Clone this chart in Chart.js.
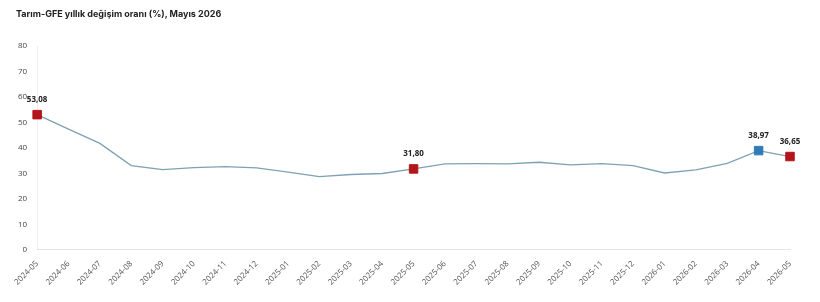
<!DOCTYPE html>
<html lang="tr">
<head>
<meta charset="utf-8">
<script src="https://cdn.jsdelivr.net/npm/chart.js@4.4.1/dist/chart.umd.min.js"></script>
<style>
    html, body { margin: 0; padding: 0; background: #fff; }
    #wrap { width: 820px; height: 302px; position: relative; }
    #baslik {
        position: absolute; left: 16px; top: 8px;
        font: bold 9px Inter, sans-serif; color: #222;
    }
</style>
</head>
<body>
<div id="wrap">
    <div id="baslik">Tarım-GFE yıllık değişim oranı (%), Mayıs 2026</div>
    <canvas id="grafik"></canvas>
</div>
<script>
// aylar
const aylar = [
    '2024-05', '2024-06', '2024-07', '2024-08', '2024-09', '2024-10', '2024-11', '2024-12',
    '2025-01', '2025-02', '2025-03', '2025-04', '2025-05', '2025-06', '2025-07', '2025-08',
    '2025-09', '2025-10', '2025-11', '2025-12', '2026-01', '2026-02', '2026-03', '2026-04', '2026-05'
];

// yıllık değişim (%)
const degisim = [
    53.08, 47.4, 41.8, 33.1, 31.5, 32.3, 32.7, 32.2,
    30.5, 28.8, 29.6, 30.0, 31.80, 33.8, 33.9, 33.8,
    34.4, 33.4, 33.9, 33.1, 30.2, 31.4, 34.0, 38.97, 36.65
];

// işaretlenen aylar
const yillikAylar = ['2024-05', '2025-05', '2026-05'];
const oncekiAy = ['2026-04'];

const yTikler = [0, 10, 20, 30, 40, 50, 60, 70, 80];

const isaretli = (i) => yillikAylar.includes(aylar[i]) || oncekiAy.includes(aylar[i]);
const isaretRengi = (i) => oncekiAy.includes(aylar[i]) ? '#2e7bb8' : '#b3151b';
const formatTR = (v) => v.toFixed(2).replace('.', ',');

const etiketPlugin = {
    id: 'etiketler',
    afterDatasetsDraw: (chart) => {
        const ctx = chart.ctx;
        const meta = chart.getDatasetMeta(0);
        ctx.save();
        ctx.font = 'bold 8px "Noto Sans", sans-serif';
        ctx.fillStyle = '#222';
        ctx.textAlign = 'center';
        ctx.textBaseline = 'middle';
        meta.data.forEach((pt, i) => {
            if (!isaretli(i)) return;
            ctx.fillText(formatTR(degisim[i]), pt.x, pt.y - 15);
        });
        ctx.restore();
    }
};

new Chart(document.getElementById('grafik'), {
    type: 'line',
    data: {
        labels: aylar,
        datasets: [{
            data: degisim,
            borderColor: '#7ea2b4',
            borderWidth: 1.3,
            tension: 0,
            pointStyle: 'rect',
            pointRadius: (c) => isaretli(c.dataIndex) ? 6 : 0,
            pointHoverRadius: (c) => isaretli(c.dataIndex) ? 6 : 0,
            pointBackgroundColor: (c) => isaretRengi(c.dataIndex),
            pointBorderColor: (c) => isaretRengi(c.dataIndex),
            pointBorderWidth: 1
        }]
    },
    options: {
        responsive: true,
        maintainAspectRatio: false,
        animation: false,
        layout: { padding: { left: 8, right: 30, top: 46, bottom: 6 } },
        plugins: {
            legend: { display: false },
            tooltip: { enabled: false },
            title: { display: false }
        },
        scales: {
            y: {
                min: 0,
                max: 80,
                afterBuildTicks: (ax) => { ax.ticks = yTikler.map(v => ({ value: v })); },
                grid: { display: false, drawTicks: false },
                border: { display: true, color: '#eeeeee' },
                ticks: { color: '#444', padding: 10, font: { family: '"Open Sans"', size: 8 } }
            },
            x: {
                offset: false,
                grid: { display: false, drawTicks: false },
                border: { display: true, color: '#e6e6e6' },
                ticks: {
                    color: '#555',
                    maxRotation: 45,
                    minRotation: 45,
                    autoSkip: false,
                    padding: 9,
                    font: { family: '"Open Sans"', size: 8 }
                }
            }
        }
    },
    plugins: [etiketPlugin]
});
</script>
</body>
</html>
